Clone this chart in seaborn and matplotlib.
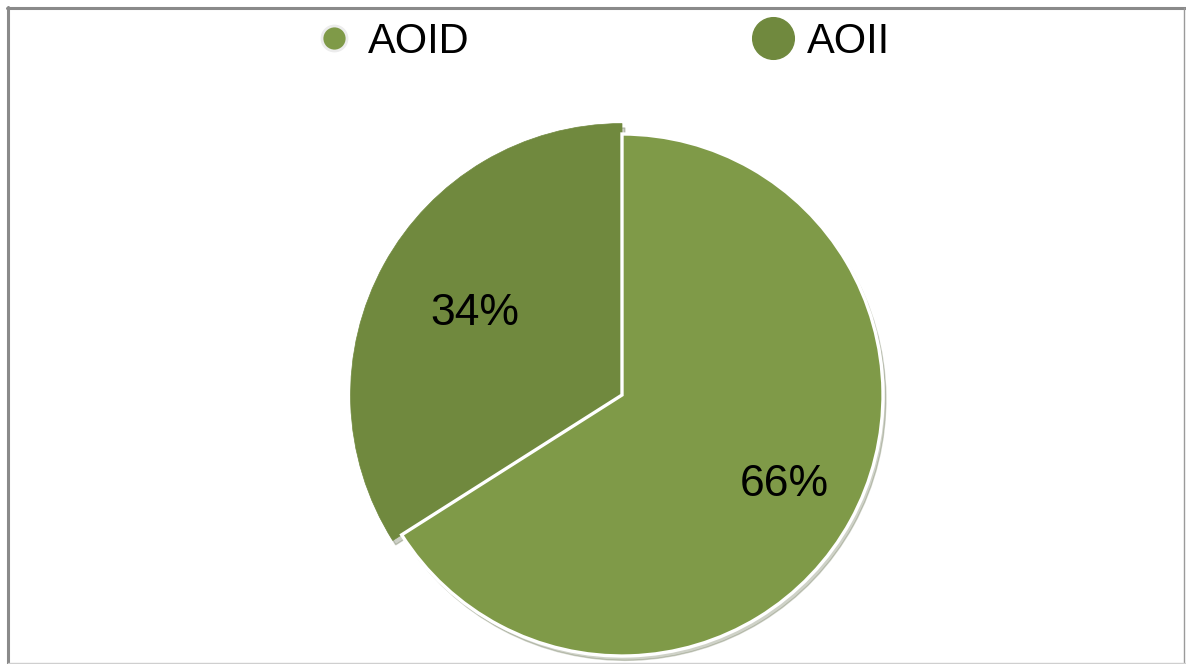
import matplotlib
matplotlib.use("Agg")
import numpy as np
import matplotlib.pyplot as plt
from matplotlib.lines import Line2D
import seaborn as sns

sns.set_theme(style="white")
plt.rcParams['font.family'] = ['Liberation Sans', 'DejaVu Sans']
plt.rcParams['text.color'] = 'black'

# Data
categories = ["AOID", "AOII"]
values = [66, 34]
colors = ["#7F9A48", "#70893E"]

W, H = 1186, 664
fig = plt.figure(figsize=(W / 100, H / 100), dpi=100)

# axes placed so that the pie centre sits at ~(622, 395) px with radius ~261 px
r_px = 261
cx, cy = 622, H - 395
half = 1.2 * r_px
ax = fig.add_axes([(cx - half) / W, (cy - half) / H, 2 * half / W, 2 * half / H])

wedges, texts, autotexts = ax.pie(
    values, colors=colors, startangle=90, counterclock=False,
    autopct=lambda p: f"{p:.0f}%", pctdistance=0.66,
    textprops=dict(fontsize=32, color="black"),
    shadow=dict(ox=0.008, oy=-0.012, shade=0.5, alpha=0.25),
)
wedges[0].set_edgecolor("white")
wedges[0].set_linewidth(2.4)
wedges[0].set_zorder(3)
wedges[1].set_edgecolor(colors[1])
wedges[1].set_linewidth(0.5)
wedges[1].set_radius(1.04)
wedges[1].set_zorder(2)

# label distances from the centre (fraction of radius)
label_dist = [0.71, 0.645]
for w, t, d in zip(wedges, autotexts, label_dist):
    ang = np.deg2rad((w.theta1 + w.theta2) / 2)
    t.set_position((d * np.cos(ang), d * np.sin(ang)))
    t.set_zorder(5)

ax.set_xlim(-1.2, 1.2)
ax.set_ylim(-1.2, 1.2)
ax.axis("off")

# legend
handles = [
    Line2D([], [], linestyle="none", marker="o", markersize=18, markerfacecolor=colors[0],
           markeredgecolor="#ececec", markeredgewidth=2.0),
    Line2D([], [], linestyle="none", marker="o", markersize=30, markerfacecolor=colors[1],
           markeredgecolor=colors[1]),
]
leg = fig.legend(handles, categories, loc="center", bbox_to_anchor=(601.5 / W, 1 - 42 / H),
                 ncol=2, frameon=False, fontsize=30, handlelength=1.0, handletextpad=0.3,
                 columnspacing=6.8, borderpad=0, borderaxespad=0)
for t in leg.get_texts():
    t.set_color("black")

# frame around the chart area
def fline(x0, y0, x1, y1, color, lw):
    fig.add_artist(Line2D([x0 / W, x1 / W], [1 - y0 / H, 1 - y1 / H],
                          transform=fig.transFigure, color=color, linewidth=lw))

fline(7, 8, W, 8, "#8a8a8a", 2.2)
fline(8, 7, 8, H, "#8a8a8a", 2.2)
fline(W - 2, 8, W - 2, H, "#9a9a9a", 1.0)
fline(8, H - 1.5, W, H - 1.5, "#cfcfcf", 1.0)

fig.savefig("out.png", dpi=100)
